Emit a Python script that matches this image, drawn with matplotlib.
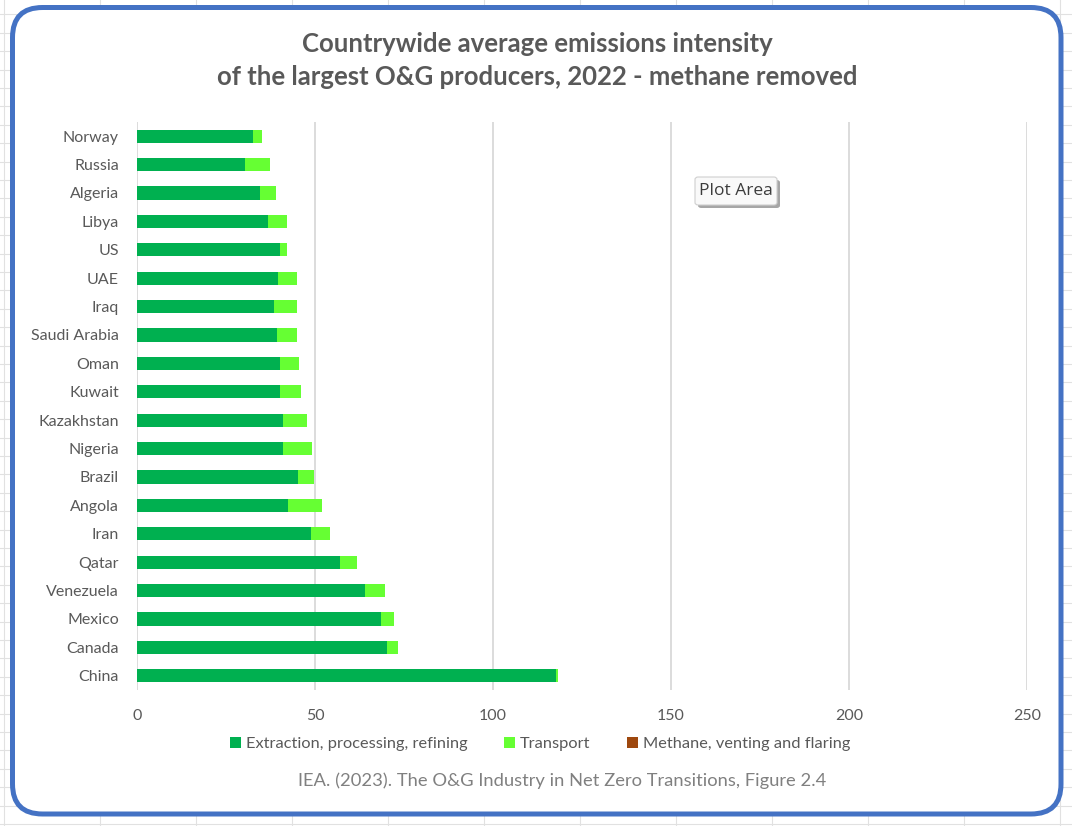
import numpy as np
import matplotlib
matplotlib.use("Agg")
import matplotlib.pyplot as plt
from matplotlib.patches import FancyBboxPatch, Patch
from matplotlib.lines import Line2D

plt.rcParams['font.family'] = ['Lato', 'DejaVu Sans']

# ── data (kt CO2-eq per Mt) ──────────────────────────────────────────────────
countries = ["Norway", "Russia", "Algeria", "Libya", "US", "UAE", "Iraq",
             "Saudi Arabia", "Oman", "Kuwait", "Kazakhstan", "Nigeria", "Brazil",
             "Angola", "Iran", "Qatar", "Venezuela", "Mexico", "Canada", "China"]
extraction = [32.7, 30.4, 34.6, 36.9, 40.3, 39.7, 38.6, 39.2, 40.3, 40.3,
              41.1, 41.1, 45.1, 42.3, 48.8, 56.9, 64.0, 68.5, 70.2, 117.6]
transport = [2.4, 7.0, 4.5, 5.3, 1.9, 5.3, 6.4, 5.8, 5.3, 5.8,
             6.7, 8.1, 4.7, 9.8, 5.5, 5.0, 5.6, 3.6, 3.1, 0.6]
methane = [0.0] * len(countries)   # methane removed
x_ticks = [0, 50, 100, 150, 200, 250]

GREEN = "#00B050"
LIME = "#66FF33"
BROWN = "#9E480E"
TEXT = "#595959"
GRID = "#D9D9D9"
W, H = 1072, 826

fig = plt.figure(figsize=(W / 100, H / 100), dpi=100)
fig.patch.set_facecolor("white")


def fx(px):
    return px / W


def fy(py):
    return 1 - py / H


# ── spreadsheet cell lines behind the chart frame ───────────────────────────
for xv in [4, 100, 196, 292, 388, 484, 580, 676, 772, 868, 964, 1060]:
    fig.add_artist(Line2D([fx(xv), fx(xv)], [0, 1], color="#E1E1E1", lw=0.8, zorder=-3))
for yv in np.arange(14.3, H, 18.4):
    fig.add_artist(Line2D([0, 1], [fy(yv), fy(yv)], color="#E1E1E1", lw=0.8, zorder=-3))

frame = FancyBboxPatch((fx(12.5), fy(814)), fx(1061 - 12.5), (814 - 7.5) / H,
                       boxstyle="round,pad=0,rounding_size=0.028",
                       facecolor="white", edgecolor="#4472C4", lw=3.6,
                       transform=fig.transFigure, mutation_aspect=W / H, zorder=-2)
fig.add_artist(frame)

# ── bars ─────────────────────────────────────────────────────────────────────
ax = fig.add_axes([fx(137), fy(690), fx(1027 - 137), (690 - 122) / H])
ax.set_zorder(1)
ax.set_facecolor("none")
y = np.arange(len(countries))
left2 = np.array(extraction)
left3 = left2 + np.array(transport)
ax.barh(y, extraction, height=0.47, color=GREEN, zorder=3)
ax.barh(y, transport, left=left2, height=0.47, color=LIME, zorder=3)
ax.barh(y, methane, left=left3, height=0.47, color=BROWN, zorder=3)

ax.set_ylim(len(countries) - 0.5, -0.5)
ax.set_xlim(0, 250)
ax.set_yticks(y)
ax.set_yticklabels(countries)
ax.set_xticks(x_ticks)
ax.tick_params(axis="both", length=0, colors=TEXT, labelsize=11.5)
ax.tick_params(axis="y", pad=13)
ax.tick_params(axis="x", pad=14)
ax.xaxis.grid(True, color=GRID, lw=1.3, zorder=0)
ax.set_axisbelow(True)
for s in ax.spines.values():
    s.set_visible(False)

# ── titles, legend, source ───────────────────────────────────────────────────
fig.text(fx(537), fy(44), "Countrywide average emissions intensity",
         ha="center", va="center", fontsize=18.5, fontweight="bold", color=TEXT)
fig.text(fx(537), fy(77), "of the largest O&G producers, 2022 - methane removed",
         ha="center", va="center", fontsize=18.5, fontweight="bold", color=TEXT)

handles = [Patch(facecolor=GREEN), Patch(facecolor=LIME), Patch(facecolor=BROWN)]
labels = ["Extraction, processing, refining", "Transport", "Methane, venting and flaring"]
fig.legend(handles, labels, loc="center", bbox_to_anchor=(fx(540), fy(744)),
           ncol=3, frameon=False, fontsize=11.8, labelcolor=TEXT,
           handlelength=0.7, handleheight=0.7, handletextpad=0.3,
           columnspacing=2.2)

fig.text(fx(562), fy(781), "IEA. (2023). The O&G Industry in Net Zero Transitions, Figure 2.4",
         ha="center", va="center", fontsize=13.2, color="#808080")

# ── "Plot Area" hover tip left over in the screenshot ────────────────────────
shadow = FancyBboxPatch((fx(698), fy(208)), fx(82), 28 / H,
                        boxstyle="round,pad=0,rounding_size=0.003",
                        facecolor="#A6A6A6", edgecolor="none",
                        transform=fig.transFigure, zorder=4)
tip = FancyBboxPatch((fx(695), fy(205)), fx(82), 28 / H,
                     boxstyle="round,pad=0,rounding_size=0.003",
                     facecolor="#F9F9F9", edgecolor="#CFCFCF", lw=0.8,
                     transform=fig.transFigure, zorder=4.5)
fig.add_artist(shadow)
fig.add_artist(tip)
fig.text(fx(736), fy(191), "Plot Area", ha="center", va="center", zorder=5,
         fontsize=12.5, color="#3C3C3C", family=["Open Sans", "DejaVu Sans"])

fig.savefig("out.png", dpi=100)
